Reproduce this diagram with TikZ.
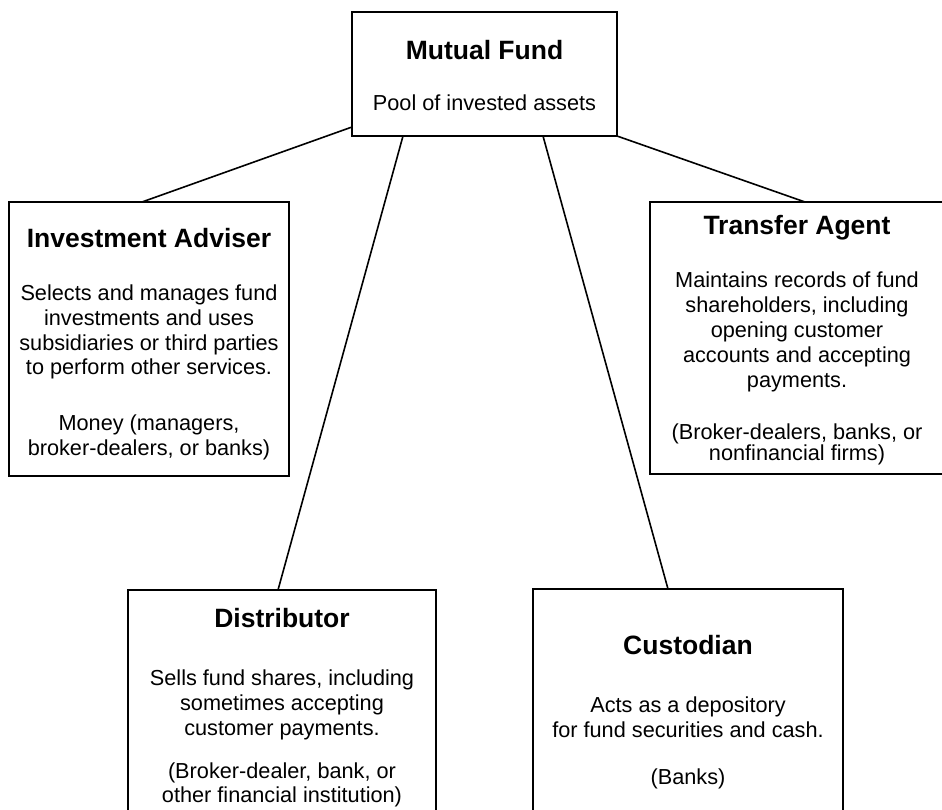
\documentclass[tikz,border=0pt]{standalone}
\usepackage{fontspec}
\setmainfont{Liberation Sans}
\tikzset{
  box/.style={draw, line width=1.3pt, outer sep=0pt, inner sep=0pt, anchor=north west},
  conn/.style={line width=1.6pt},
  head/.style={font=\fontsize{26.5}{30}\selectfont\bfseries, anchor=base, inner sep=0pt},
  body/.style={font=\fontsize{21.7}{24.5}\selectfont, anchor=base, inner sep=0pt},
}
\begin{document}
\begin{tikzpicture}[x=1pt, y=-1pt]
\clip (0,0) rectangle (942,809);
% boxes
\node[box, minimum width=265pt, minimum height=124pt] (mf) at (352,12) {};
\node[box, minimum width=280pt, minimum height=274pt] (ia) at (9,202) {};
\node[box, minimum width=294pt, minimum height=272pt] (ta) at (650,202) {};
\node[box, minimum width=308pt, minimum height=260pt] (dist) at (128,590) {};
\node[box, minimum width=310pt, minimum height=260pt] (cust) at (533,589) {};
% connectors
\draw[conn] ([yshift=9pt]mf.south west) -- ([xshift=133pt]ia.north west);
\draw[conn] ([xshift=51pt]mf.south west) -- ([xshift=150pt]dist.north west);
\draw[conn] ([xshift=191pt]mf.south west) -- ([xshift=135pt]cust.north west);
\draw[conn] (mf.south east) -- ([xshift=155pt]ta.north west);
% Mutual Fund
\node[head] (mfh) at (484.5,59.5) {Mutual Fund};
\node[body] (mfb) at (484.5,110.7) {Pool of invested assets};
% Investment Adviser
\node[head] (iah) at (149,247.5) {Investment Adviser};
\foreach \t [count=\i] in {Selects and manages fund, investments and uses, subsidiaries or third parties, to perform other services.}
  \node[body] (iad\i) at (149,{300.6+24.7*(\i-1)}) {\t};
\foreach \t [count=\i] in {{Money (managers,}, {broker-dealers, or banks)}}
  \node[body] (iao\i) at (149,{430.6+24.7*(\i-1)}) {\t};
% Transfer Agent
\node[head] (tah) at (797,234.5) {Transfer Agent};
\foreach \t [count=\i] in {Maintains records of fund, {shareholders, including}, opening customer, accounts and accepting, payments.}
  \node[body] (tad\i) at (797,{287.6+25*(\i-1)}) {\t};
\foreach \t [count=\i] in {{(Broker-dealers, banks, or}, nonfinancial firms)}
  \node[body] (tao\i) at (797,{439.6+21*(\i-1)}) {\t};
% Distributor
\node[head] (dh) at (282,627.5) {Distributor};
\foreach \t [count=\i] in {{Sells fund shares, including}, sometimes accepting, customer payments.}
  \node[body] (dd\i) at (282,{685.6+24.7*(\i-1)}) {\t};
\foreach \t [count=\i] in {{(Broker-dealer, bank, or}, other financial institution)}
  \node[body] (do\i) at (282,{778+24*(\i-1)}) {\t};
% Custodian
\node[head] (ch) at (688,654.5) {Custodian};
\foreach \t [count=\i] in {Acts as a depository, for fund securities and cash.}
  \node[body] (cd\i) at (688,{712.6+24.7*(\i-1)}) {\t};
\node[body] (co) at (688,784.6) {(Banks)};
\end{tikzpicture}
\end{document}
